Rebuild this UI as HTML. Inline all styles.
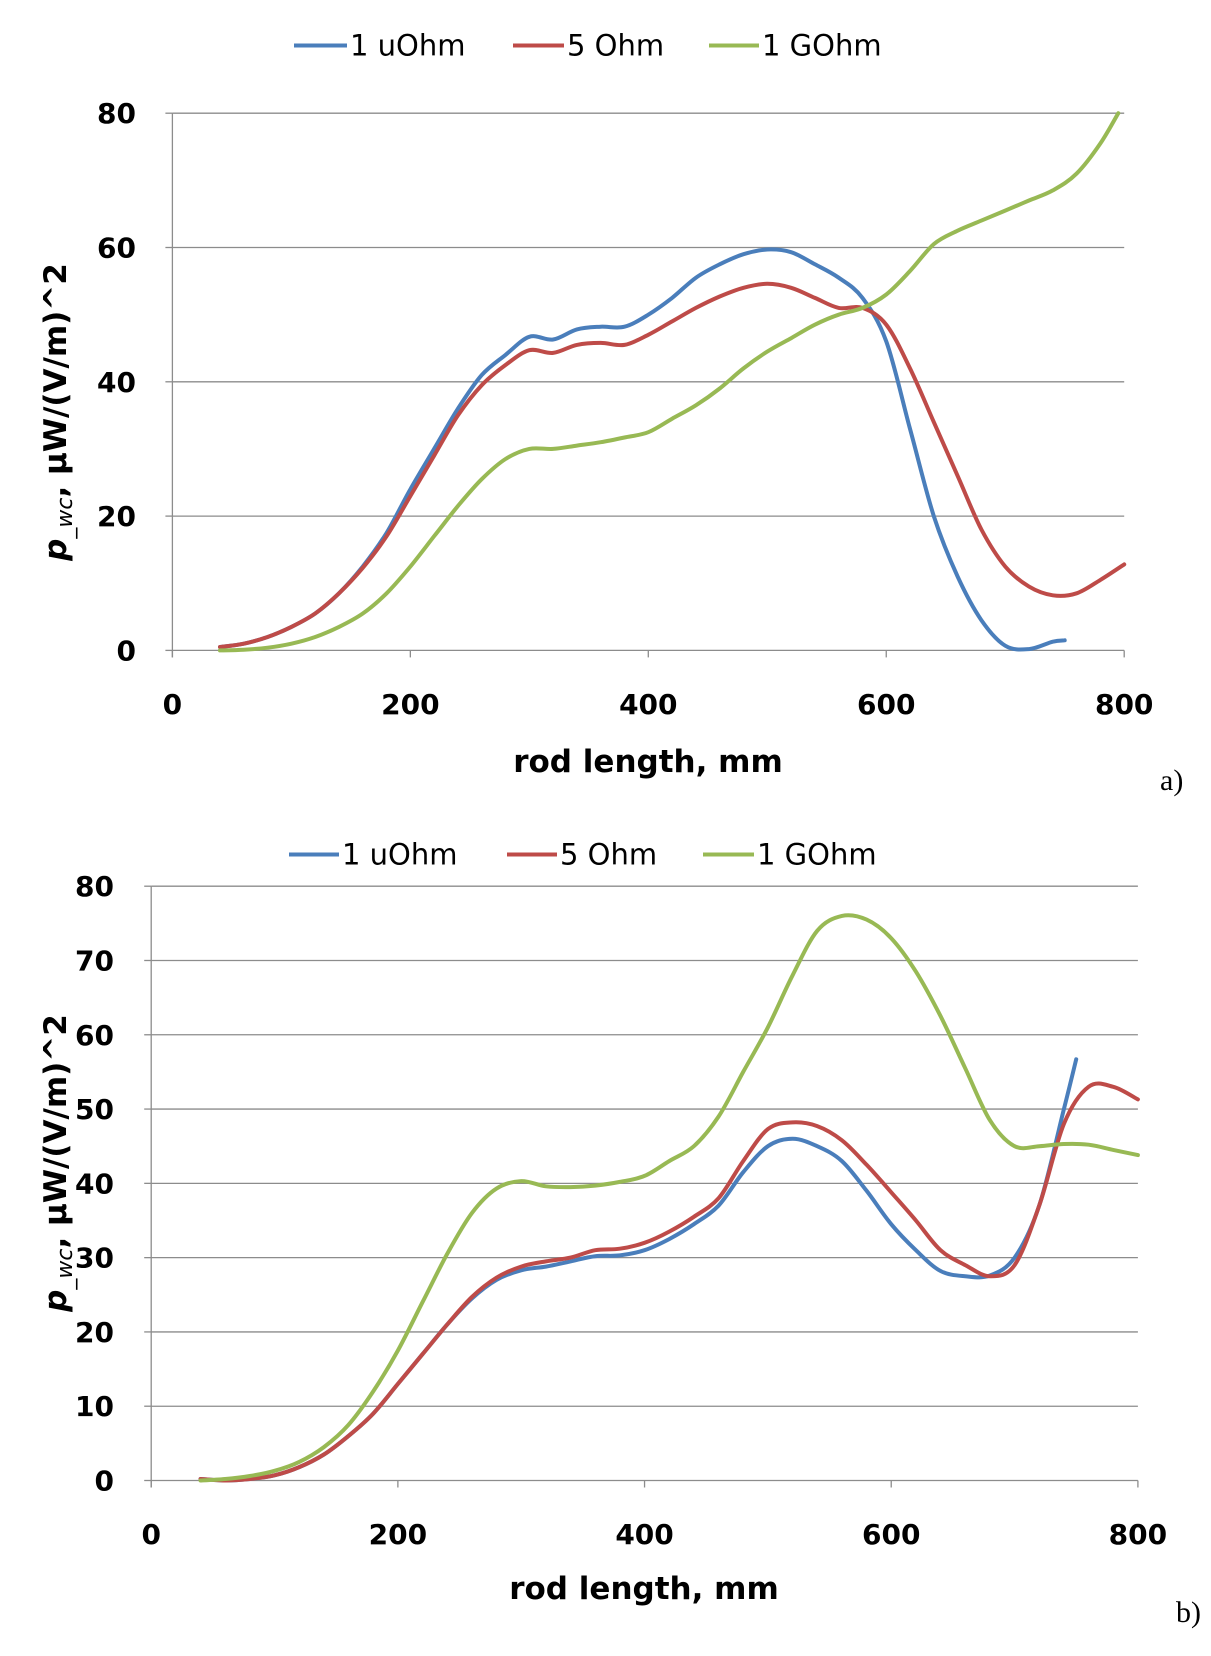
<!DOCTYPE html>
<html><head><meta charset="utf-8"><style>
html,body{margin:0;padding:0;background:#fff;}
svg{display:block;font-family:"DejaVu Sans","Liberation Sans",sans-serif;}
</style></head><body>
<svg id="s" width="1211" height="1656" viewBox="0 0 1211 1656"></svg>
<script>
const seriesNames=["1 uOhm","5 Ohm","1 GOhm"];
const colors=["#4a7ebb","#be4b48","#98b954"];
const aX_blue=[40,60,80,100,120,140,160,180,200,220,240,260,280,300,320,340,360,380,400,420,440,460,480,500,520,540,560,580,600,620,640,660,680,700,720,740,750];
const aY_blue=[0.5,1,2,3.5,5.5,8.5,12.5,17.5,24,30,36,41,44,46.7,46.3,47.8,48.2,48.2,50,52.5,55.5,57.5,59,59.7,59.3,57.5,55.5,52.5,46,33,20,11,4.5,0.7,0.2,1.3,1.5];
const aX_red=[40,60,80,100,120,140,160,180,200,220,240,260,280,300,320,340,360,380,400,420,440,460,480,500,520,540,560,580,600,620,640,660,680,700,720,740,760,780,800];
const aY_red=[0.5,1,2,3.5,5.5,8.5,12.3,17,23,29,35,39.5,42.5,44.7,44.3,45.5,45.8,45.5,47,49,51,52.7,54,54.6,54,52.5,51,51,48.5,42,34,26,18,12.5,9.5,8.2,8.5,10.5,12.8];
const aX_green=[40,60,80,100,120,140,160,180,200,220,240,260,280,300,320,340,360,380,400,420,440,460,480,500,520,540,560,580,600,620,640,660,680,700,720,740,760,780,795];
const aY_green=[0,0.1,0.4,1,2,3.5,5.5,8.5,12.5,17,21.5,25.5,28.5,30,30,30.5,31,31.7,32.5,34.5,36.5,39,42,44.5,46.5,48.5,50,51,53,56.5,60.5,62.5,64,65.5,67,68.5,71,75.5,80];
const bX_blue=[40,60,80,100,120,140,160,180,200,220,240,260,280,300,320,340,360,380,400,420,440,460,480,500,520,540,560,580,600,620,640,660,680,700,720,740,750];
const bY_blue=[0.2,0,0.2,0.7,1.8,3.5,6,9,13,17,21,24.5,27,28.3,28.8,29.5,30.2,30.3,31,32.5,34.5,37,41.5,45,46,45,43,39,34.5,31,28.2,27.5,27.6,30,37,50,56.7];
const bX_red=[40,60,80,100,120,140,160,180,200,220,240,260,280,300,320,340,360,380,400,420,440,460,480,500,520,540,560,580,600,620,640,660,680,700,720,740,760,780,800];
const bY_red=[0.2,0,0.2,0.7,1.8,3.5,6,9,13,17,21,24.7,27.3,28.8,29.5,30,31,31.2,32,33.5,35.5,38,43,47.3,48.2,47.7,45.8,42.5,38.8,35,31,29,27.5,29,37,48,53,53,51.3];
const bX_green=[40,60,80,100,120,140,160,180,200,220,240,260,280,300,320,340,360,380,400,420,440,460,480,500,520,540,560,580,600,620,640,660,680,700,720,740,760,780,800];
const bY_green=[0,0.2,0.6,1.3,2.5,4.5,7.5,12,17.5,24,30.5,36,39.3,40.3,39.6,39.5,39.7,40.2,41,43,45,49,55,61,68,74,76,75.5,73,68.5,62.5,55.5,48.5,45,45,45.3,45.2,44.5,43.8];
const aYTicks=[0,20,40,60,80];
const bYTicks=[0,10,20,30,40,50,60,70,80];
const xTicks=[0,200,400,600,800];

const NS="http://www.w3.org/2000/svg";
const svg=document.getElementById('s');
function el(tag,attrs,parent,text){const e=document.createElementNS(NS,tag);for(const k in attrs)e.setAttribute(k,attrs[k]);if(text!==undefined)e.textContent=text;(parent||svg).appendChild(e);return e;}
function smooth(pts){let d="M"+pts[0][0]+","+pts[0][1];for(let i=0;i<pts.length-1;i++){const p0=pts[Math.max(0,i-1)],p1=pts[i],p2=pts[i+1],p3=pts[Math.min(pts.length-1,i+2)];const c1=[p1[0]+(p2[0]-p0[0])/6,p1[1]+(p2[1]-p0[1])/6],c2=[p2[0]-(p3[0]-p1[0])/6,p2[1]-(p3[1]-p1[1])/6];d+=" C"+c1[0].toFixed(1)+","+c1[1].toFixed(1)+" "+c2[0].toFixed(1)+","+c2[1].toFixed(1)+" "+p2[0].toFixed(1)+","+p2[1].toFixed(1);}return d;}

function chart(cfg){
  const g=el('g',{});
  
  
  const sx=v=>cfg.x0+(v-0)/800*(cfg.x1-cfg.x0);
  const sy=v=>cfg.y0-(v/cfg.ymax)*(cfg.y0-cfg.y1);
  cfg.yTicks.forEach(t=>{
    if(t>0){const l=el('line',{x1:cfg.x0,x2:cfg.x1,y1:sy(t),y2:sy(t),stroke:'#8c8c8c','stroke-width':1.3},g);
    
    }
    const tx=el('text',{x:cfg.tickR,y:sy(t)+10,'text-anchor':'end','font-size':28,'font-weight':'bold',fill:'#000'},g,String(t));
    
    
    const tk=el('line',{x1:cfg.x0-7,x2:cfg.x0,y1:sy(t),y2:sy(t),stroke:'#8c8c8c','stroke-width':1.3},g);
    
    
  });
  const ya=el('line',{x1:cfg.x0,x2:cfg.x0,y1:cfg.y1,y2:cfg.y0+7,stroke:'#8c8c8c','stroke-width':1.3},g);
  
  
  const xa=el('line',{x1:cfg.x0,x2:cfg.x1,y1:cfg.y0,y2:cfg.y0,stroke:'#8c8c8c','stroke-width':1.3},g);
  
  
  xTicks.forEach(t=>{
    const tk=el('line',{x1:sx(t),x2:sx(t),y1:cfg.y0,y2:cfg.y0+7,stroke:'#8c8c8c','stroke-width':1.3},g);
    
    
    const tx=el('text',{x:sx(t),y:cfg.xLabY,'text-anchor':'middle','font-size':28,'font-weight':'bold'},g,String(t));
    
    
  });
  cfg.series.forEach((s,i)=>{
    const pts=s[0].map((x,j)=>[sx(x),sy(s[1][j])]);
    const p=el('path',{d:smooth(pts),fill:'none',stroke:colors[i],'stroke-width':4,'stroke-linejoin':'round','stroke-linecap':'round'},g);
    
    
  });
  const xt=el('text',{x:cfg.xtX,y:cfg.xtY,'text-anchor':'middle','font-size':31,'font-weight':'bold'},g,'rod length, mm');
  
  
  const yt=el('text',{transform:'translate('+cfg.ytX+','+cfg.ytY+') rotate(-90)','text-anchor':'middle','font-size':31,'font-weight':'bold'},g);
  
  
  el('tspan',{'font-style':'italic'},yt,'p');
  el('tspan',{'font-style':'italic','font-size':22,'font-weight':'normal',dy:6},yt,'_wc');
  el('tspan',{dy:-6},yt,',  µW/(V/m)^2');
  cfg.legend.forEach((lg,i)=>{
    const lgG=el('g',{},g);
    
    
    el('line',{x1:lg[0],x2:lg[1],y1:cfg.legY,y2:cfg.legY,stroke:colors[i],'stroke-width':4},lgG);
    el('text',{x:lg[1]+3,y:cfg.legY+10,'font-size':29,fill:'#000'},lgG,seriesNames[i]);
  });
  const lab=el('text',{x:cfg.labX,y:cfg.labY,'font-size':30,'font-family':'"Liberation Serif",serif'},g,cfg.lab);
  
  
}
chart({name:'chart-a',x0:172.4,x1:1124.2,y0:650.4,y1:113.2,ymax:80,yTicks:aYTicks,tickR:136,xLabY:714,
  series:[[aX_blue,aY_blue],[aX_red,aY_red],[aX_green,aY_green]],xtX:648,xtY:772,ytX:66,ytY:412,
  legY:45.5,legend:[[294,347],[513,564],[709,759]],lab:'a)',labX:1160,labY:790});
chart({name:'chart-b',x0:151.2,x1:1137.9,y0:1480.5,y1:886.2,ymax:80,yTicks:bYTicks,tickR:114,xLabY:1544,
  series:[[bX_blue,bY_blue],[bX_red,bY_red],[bX_green,bY_green]],xtX:644,xtY:1599,ytX:66,ytY:1163,
  legY:854.5,legend:[[289,339],[507,557],[703,754]],lab:'b)',labX:1176,labY:1622});
</script>
</body></html>
